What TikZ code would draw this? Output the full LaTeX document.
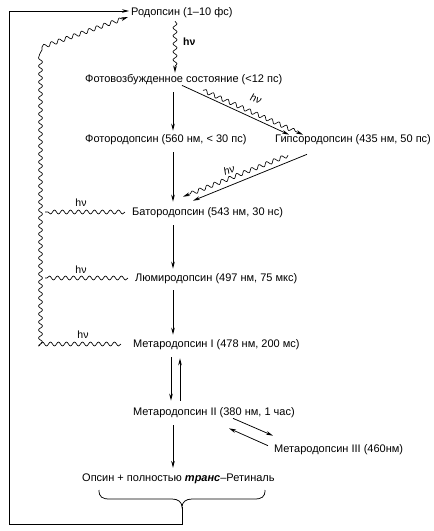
\documentclass[tikz,border=0pt]{standalone}
\usepackage{fontspec}
\setmainfont{Liberation Sans}
\usetikzlibrary{arrows.meta,decorations.pathmorphing,calc}
\begin{document}
\begin{tikzpicture}[x=1pt,y=-1pt,
 lbl/.style={anchor=west,inner sep=0pt,font=\fontsize{11}{13}\selectfont},
 hv/.style={inner sep=0pt,font=\fontsize{10.5}{12}\selectfont},
 tip/.style={-{Stealth[length=7pt,width=3.6pt]}},
 arr/.style={line width=0.75pt,tip},
 ln/.style={line width=0.75pt},
 wavy/.style={line width=0.65pt,line join=round,decorate,decoration={snake,amplitude=2pt,segment length=8pt}},
 wavyarr/.style={line width=0.65pt,line join=round,tip,decorate,decoration={snake,amplitude=2pt,segment length=8pt,post length=6pt}}]
\useasboundingbox (0,0) rectangle (434,531);
\fill[white] (0,0) rectangle (434,531);

% states
\node[lbl] (rho) at (131,13) {Родопсин (1–10 фс)};
\node[lbl] (exc) at (85,80) {Фотовозбужденное состояние (<12 пс)};
\node[lbl] (photo) at (85,140) {Фотородопсин (560 нм, < 30 пс)};
\node[lbl] (hypso) at (275,140) {Гипсородопсин (435 нм, 50 пс)};
\node[lbl] (batho) at (132,213) {Батородопсин (543 нм, 30 нс)};
\node[lbl] (lumi) at (135,279) {Люмиродопсин (497 нм, 75 мкс)};
\node[lbl] (meta1) at (133,345) {Метародопсин I (478 нм, 200 мс)};
\node[lbl] (meta2) at (133,413) {Метародопсин II (380 нм, 1 час)};
\node[lbl] (meta3) at (274,450) {Метародопсин III (460нм)};
\node[lbl] (opsin) at (82,479) {Опсин + полностью \textbf{\textit{транс}}–Ретиналь};

% hv labels
\node[hv,anchor=west] (hv0) at (183,42) {\textbf{hν}};
\node[hv,rotate=-18] (hv1) at (256,99) {\textit{hν}};
\node[hv,rotate=20] (hv2) at (229,170) {\textit{hν}};
\node[hv] (hv3) at (81,203) {hν};
\node[hv] (hv4) at (81,270) {hν};
\node[hv] (hv5) at (83,335) {hν};

% main cascade
\draw[wavyarr] ($(rho.south west)+(44,3)$) -- ($(exc.north west)+(90,-2)$);
\draw[arr] ($(exc.south west)+(88,7)$) -- ($(photo.north west)+(88,-4)$);
\draw[arr] ($(exc.south west)+(97,0)$) -- ($(hypso.north west)+(14,0)$);
\draw[wavyarr] ($(exc.south west)+(118,5)$) -- ($(hypso.north west)+(28,0)$);
\draw[arr] ($(hypso.south west)+(32,9)$) -- ($(batho.north west)+(61,-7)$);
\draw[wavyarr] ($(hypso.south west)+(13,10)$) -- ($(batho.north west)+(51,-11)$);
\draw[arr] ($(photo.south west)+(88,7)$) -- ($(batho.north west)+(41,-6)$);
\draw[arr] ($(batho.south west)+(41,7)$) -- ($(lumi.north west)+(38,-5)$);
\draw[arr] ($(lumi.south west)+(38,6)$) -- ($(meta1.north west)+(40,-5)$);
\draw[arr] ($(meta1.south west)+(38,7)$) -- ($(meta2.north west)+(38,-7)$);
\draw[arr] ($(meta2.north west)+(47,-7)$) -- ($(meta1.south west)+(47,8)$);
\draw[arr] ($(meta2.south west)+(40,7)$) -- ($(opsin.north west)+(91,-6)$);
\draw[arr] ($(meta2.south west)+(100,0)$) -- ($(meta3.north west)+(-1,-9)$);
\draw[arr] ($(meta3.north west)+(-6,1)$) -- ($(meta2.south west)+(96,10)$);

% light-driven back reactions
\coordinate (wl) at (42,47);
\draw[wavy] ($(meta1.west)+(-12,-1)$) -| (wl);
\draw[wavy] ($(batho.west)+(-7,-1)$) -- ($(batho.west -| wl)+(3,-1)$);
\draw[wavy] ($(lumi.west)+(-7,-1)$) -- ($(lumi.west -| wl)+(3,-1)$);
\draw[wavyarr] (wl) -- ($(rho.west)+(-3,4)$);

% regeneration: brace and return line
\draw[ln] (99,490) .. controls (99,497) and (102,499) .. (110,499) -- (172,499)
  .. controls (178,499) and (182,502) .. (182,507)
  .. controls (182,502) and (186,499) .. (192,499) -- (254,499)
  .. controls (262,499) and (265,497) .. (265,490);
\coordinate (bt) at (182,507);
\draw[ln,tip] (bt) -- (182,524) -| (9,11) -- ($(rho.west)+(-2,-2)$);
\end{tikzpicture}
\end{document}
